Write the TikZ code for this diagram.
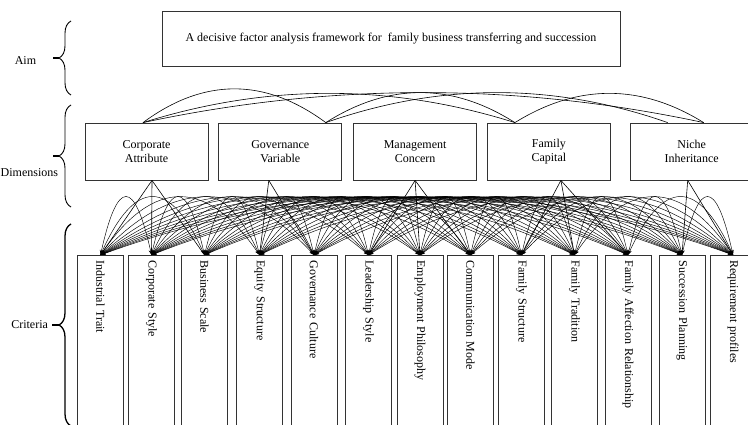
\documentclass[tikz,border=0pt]{standalone}
\usepackage{fontspec}
\setmainfont{Liberation Serif}
\usetikzlibrary{positioning,calc,arrows.meta,decorations.pathreplacing}

\begin{document}
\begin{tikzpicture}[
    x=1pt, y=1pt,
    font=\fontsize{12}{14.5}\selectfont,
    box/.style={draw=black!80, line width=0.8pt, minimum width=123pt, minimum height=57pt, align=center},
    critbox/.style={draw=black!80, line width=0.8pt, rotate=-90, anchor=west, text width=180pt, minimum height=46pt, inner xsep=5pt, align=left},
    critarc/.style={<->, >={Stealth[length=5pt, width=3.5pt]}, line width=0.45pt},
    dimarc/.style={line width=0.6pt},
    link/.style={line width=0.6pt},
    bracket/.style={decorate, decoration={brace, amplitude=12pt}, line width=0.9pt},
    tick/.style={line width=1.2pt}
]
\useasboundingbox (0,0) rectangle (748,424);

% Aim
\node[box, minimum width=458pt, minimum height=55pt] (aim) at (391,385.5) {A decisive factor analysis framework for~ family business transferring and succession};

% Dimensions
\node[box] (ca) at (146.5,272.5) {Corporate\\Attribute};
\node[box, right=10pt of ca] (gv) {Governance\\Variable};
\node[box, right=11pt of gv] (mc) {Management\\Concern};
\node[box, right=10pt of mc] (fc) {Family\\Capital};
\node[box, right=19pt of fc] (ni) {Niche\\Inheritance};

% Criteria (rotated, so .west is the top edge)
\node[critbox] (c1) at (100.5,169) {Industrial Trait};
\node[critbox] (c2) at (151.5,169) {Corporate Style};
\node[critbox] (c3) at (204.5,169) {Business Scale};
\node[critbox] (c4) at (259.5,169) {Equity Structure};
\node[critbox] (c5) at (314,169) {Governance Culture};
\node[critbox] (c6) at (368.5,169) {Leadership Style};
\node[critbox] (c7) at (420,169) {Employment Philosophy};
\node[critbox] (c8) at (470.5,169) {Communication Mode};
\node[critbox] (c9) at (521.5,169) {Family Structure};
\node[critbox] (c10) at (574.5,169) {Family Tradition};
\node[critbox] (c11) at (628,169) {Family Affection Relationship};
\node[critbox] (c12) at (682,169) {Succession Planning};
\node[critbox] (c13) at (733,169) {Requirement profiles};

% Arc ends on the dimension boxes
\coordinate (catop) at ([xshift=-3.5pt]ca.north);
\coordinate (gvtop) at ([xshift=45.5pt]gv.north);
\coordinate (fctop) at ([xshift=-34pt]fc.north);
\coordinate (nitopa) at ([xshift=-24pt]ni.north);
\coordinate (nitopb) at ([xshift=12pt]ni.north);

\coordinate (caapex) at ([xshift=5.5pt]ca.south);
\coordinate (gvapex) at ([xshift=-11.5pt]gv.south);
\coordinate (mcapex) at (mc.south);
\coordinate (fcapex) at ([xshift=12pt]fc.south);
\coordinate (niapex) at ([xshift=-4pt]ni.south);

% Arcs between dimensions
\foreach \a/\b/\h in {catop/gvtop/45, catop/fctop/39, catop/nitopb/40, gvtop/fctop/40, gvtop/nitopa/40, fctop/nitopb/39}
  \draw[dimarc] (\a) .. controls ($(\a)!1/3!(\b)+(0,\h)$) and ($(\a)!2/3!(\b)+(0,\h)$) .. (\b);

% Dimensions to criteria
\foreach \d/\c in {caapex/c1, caapex/c2, caapex/c3, gvapex/c4, gvapex/c5, mcapex/c6, mcapex/c7, mcapex/c8, fcapex/c9, fcapex/c10, fcapex/c11, niapex/c12, niapex/c13}
  \draw[link] (\d) -- (\c.west);

% Arcs between criteria
\foreach \i in {1,...,12} {
  \pgfmathtruncatemacro{\first}{\i+1}
  \foreach \j in {\first,...,13}
    \draw[critarc] (c\i.west) .. controls ($(c\i.west)!1/3!(c\j.west)+(0,77)$) and ($(c\i.west)!2/3!(c\j.west)+(0,77)$) .. (c\j.west);
}

% Levels on the left
\draw[bracket] (71,329) -- (71,403);
\coordinate (aimtip) at (59,366);
\node (aimlabel) at (25.5,363) {Aim};
\draw[tick] (aimtip) -- +(-6,0);

\draw[bracket] (71,217) -- (71,319);
\coordinate (dimtip) at (59,268);
\node[anchor=west, inner xsep=1pt] (dimlabel) at (-0.5,251) {Dimensions};
\draw[tick] (dimtip) -- +(-6,0);

\draw[bracket, line width=1.3pt] (71,-2) -- (71,200);
\coordinate (crittip) at (59,99);
\node[anchor=east] (critlabel) at (51.5,99) {Criteria};
\draw[tick] (crittip) -- +(-7,0);

\end{tikzpicture}
\end{document}
